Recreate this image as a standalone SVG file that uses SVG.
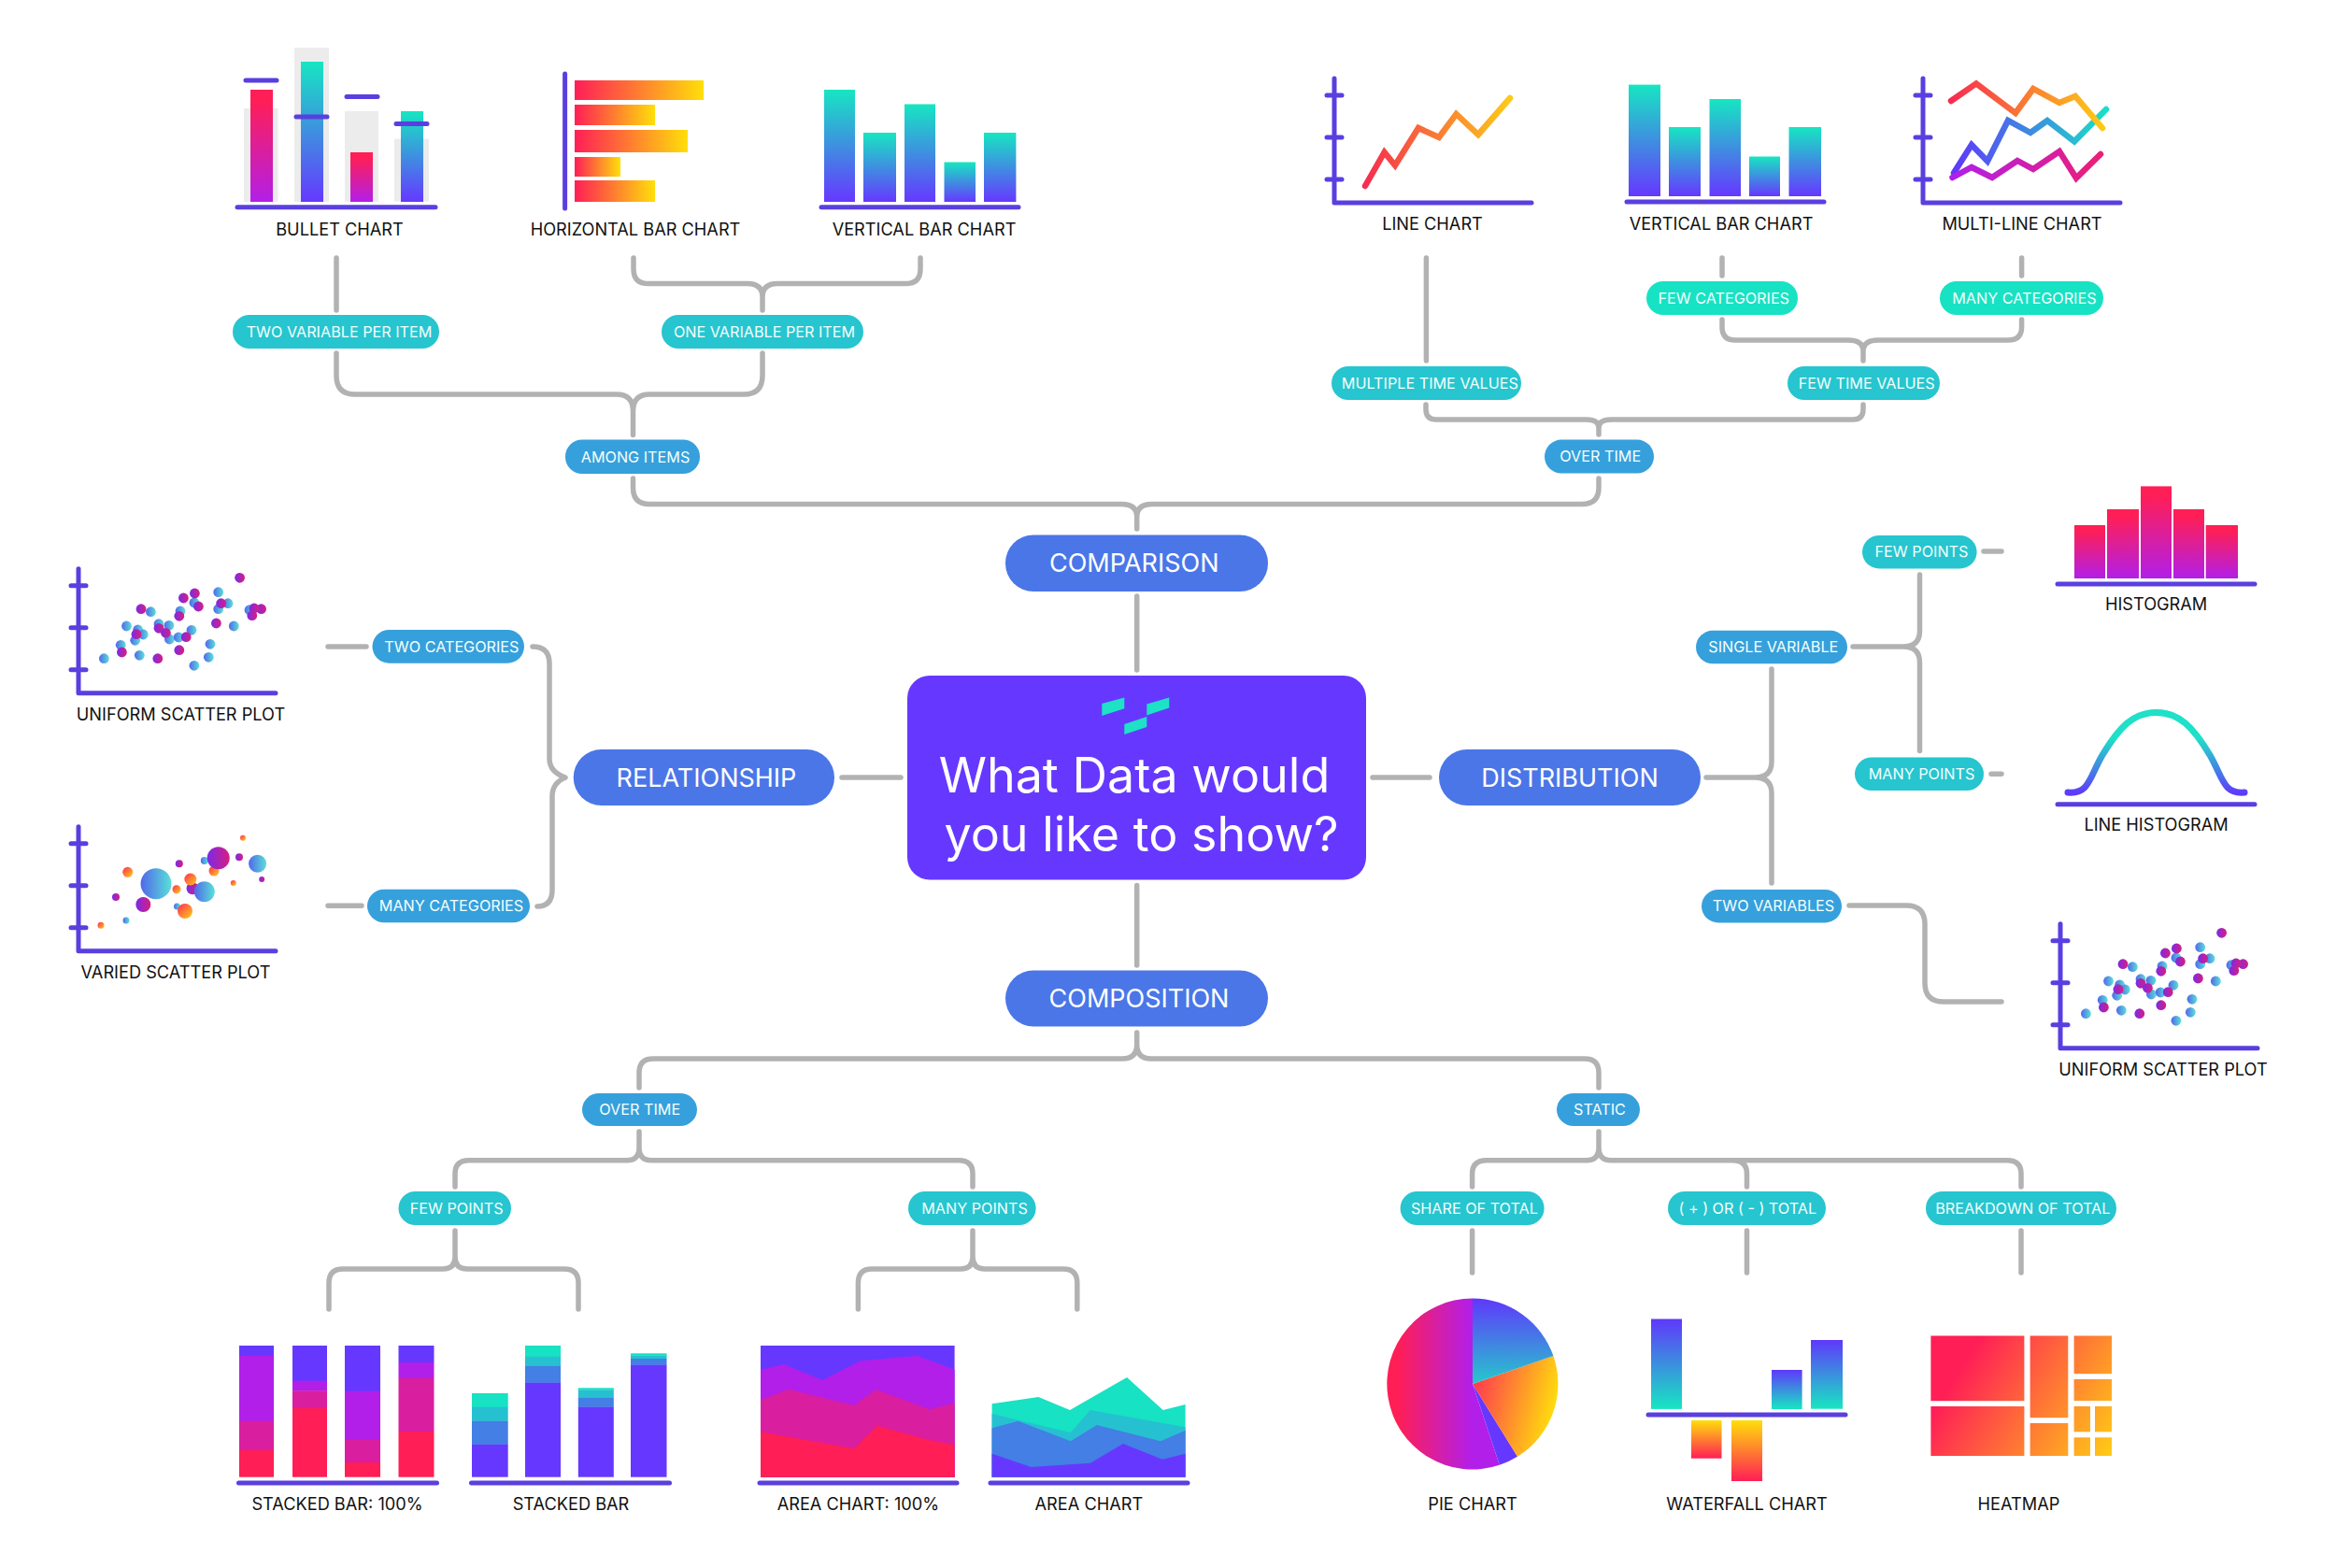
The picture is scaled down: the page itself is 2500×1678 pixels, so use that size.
<svg xmlns="http://www.w3.org/2000/svg" xmlns:xlink="http://www.w3.org/1999/xlink" width="2500" height="1678" viewBox="0 0 2500 1678">
<style>
text{font-family:Inter,"Liberation Sans",Arial,sans-serif;text-anchor:middle}
.lbl{font-size:18.2px;fill:#111}
.pt{font-size:16.2px;fill:#f4fffd}
.big{font-size:27px;fill:#fff}
.main{font-size:52px;fill:#fff}
.con{fill:none;stroke:#b2b2b2;stroke-width:5.5;stroke-linecap:round;stroke-linejoin:round}
.ax{fill:none;stroke:#5a3fe0;stroke-width:5;stroke-linecap:round;stroke-linejoin:round}
.a{fill:#36a0dc}.t{fill:#26c5cf}.g{fill:#17e2c3}.b{fill:#4a76e8}
.bg{fill:#ececec}
.tv{fill:url(#tv)}.rp{fill:url(#rp)}.ry{fill:url(#ry)}.vt{fill:url(#vt)}.yr{fill:url(#yr)}
.ln{fill:none;stroke-width:6.5;stroke-linejoin:miter;stroke-linecap:round}
.v{fill:#6638ff}.p{fill:#b21fe8}.m{fill:#d91ea0}.r{fill:#ff1e56}.e{fill:#17e2c3}.c{fill:#26c1d0}.u{fill:#437fe4}
.dm{fill:url(#dm)}.db{fill:url(#db)}.do{fill:url(#do)}
.hm{fill:url(#hm)}
</style>
<defs>
<linearGradient id="tv" x1="0" y1="0" x2="0" y2="1"><stop offset="0" stop-color="#17e6c2"/><stop offset="1" stop-color="#6638ff"/></linearGradient>
<linearGradient id="vt" x1="0" y1="0" x2="0" y2="1"><stop offset="0" stop-color="#5f38fb"/><stop offset="1" stop-color="#17e6c2"/></linearGradient>
<linearGradient id="rp" x1="0" y1="0" x2="0" y2="1"><stop offset="0.1" stop-color="#ff1e56"/><stop offset="1" stop-color="#b21fe8"/></linearGradient>
<linearGradient id="ry" x1="0" y1="0" x2="1" y2="0"><stop offset="0" stop-color="#ff1e56"/><stop offset="1" stop-color="#ffdf0a"/></linearGradient>
<linearGradient id="yr" x1="0" y1="0" x2="0" y2="1"><stop offset="0" stop-color="#ffdf0a"/><stop offset="1" stop-color="#ff1e56"/></linearGradient>
<linearGradient id="dm" x1="0" y1="0" x2="1" y2="0"><stop offset="0" stop-color="#7a2ae8"/><stop offset="1" stop-color="#d81e80"/></linearGradient>
<linearGradient id="db" x1="0" y1="0" x2="1" y2="0"><stop offset="0" stop-color="#5068ea"/><stop offset="1" stop-color="#5ae0d8"/></linearGradient>
<linearGradient id="do" x1="0" y1="0" x2="1" y2="1"><stop offset="0" stop-color="#ff2a55"/><stop offset="1" stop-color="#ffd015"/></linearGradient>
<linearGradient id="lg1" gradientUnits="userSpaceOnUse" x1="1461" y1="0" x2="1616" y2="0"><stop offset="0" stop-color="#f62c50"/><stop offset="1" stop-color="#fdcb17"/></linearGradient>
<linearGradient id="lg2" gradientUnits="userSpaceOnUse" x1="2088" y1="0" x2="2250" y2="0"><stop offset="0" stop-color="#f62c50"/><stop offset="1" stop-color="#fdcb17"/></linearGradient>
<linearGradient id="lg3" gradientUnits="userSpaceOnUse" x1="2091" y1="0" x2="2254" y2="0"><stop offset="0" stop-color="#5f38fb"/><stop offset="1" stop-color="#1adfc5"/></linearGradient>
<linearGradient id="lg4" gradientUnits="userSpaceOnUse" x1="2089" y1="0" x2="2248" y2="0"><stop offset="0" stop-color="#b01fea"/><stop offset="1" stop-color="#ec1e78"/></linearGradient>
<linearGradient id="lh" gradientUnits="userSpaceOnUse" x1="0" y1="790" x2="0" y2="850"><stop offset="0" stop-color="#1fe0c8"/><stop offset="1" stop-color="#5f38fb"/></linearGradient>
<linearGradient id="hm" gradientUnits="userSpaceOnUse" x1="2080" y1="1450" x2="2270" y2="1570"><stop offset="0.1" stop-color="#ff1e56"/><stop offset="1" stop-color="#ffda10"/></linearGradient>
<linearGradient id="pi1" x1="0" y1="0" x2="0" y2="1"><stop offset="0" stop-color="#5f38fb"/><stop offset="1" stop-color="#26c8cc"/></linearGradient>
<linearGradient id="pi2" x1="0" y1="0" x2="1" y2="0.3"><stop offset="0" stop-color="#ff2a55"/><stop offset="1" stop-color="#ffd80f"/></linearGradient>
<linearGradient id="pi3" x1="0" y1="0" x2="1" y2="0"><stop offset="0.1" stop-color="#ff1e56"/><stop offset="0.75" stop-color="#b21fe8"/></linearGradient>
<g id="axes"><path class="ax" d="M0 3V136H211M-8 21H8M-8 66H8M-8 111H8"/></g>
<g id="scatter">
<circle class="db" cx="233.7" cy="633.7" r="5.4"/><circle class="db" cx="244" cy="645.7" r="5.4"/><circle class="db" cx="233.7" cy="651.7" r="5.4"/><circle class="db" cx="207.9" cy="645" r="5.4"/><circle class="db" cx="161.4" cy="654.7" r="5.4"/><circle class="db" cx="193" cy="654" r="5.4"/><circle class="db" cx="267" cy="652.7" r="5.4"/><circle class="db" cx="250.3" cy="670" r="5.4"/><circle class="db" cx="135.5" cy="670" r="5.4"/><circle class="db" cx="180.9" cy="669.3" r="5.4"/><circle class="db" cx="170" cy="667.7" r="5.4"/><circle class="db" cx="147.6" cy="674" r="5.4"/><circle class="db" cx="153.3" cy="679" r="5.4"/><circle class="db" cx="144.7" cy="685.3" r="5.4"/><circle class="db" cx="205" cy="674.3" r="5.4"/><circle class="db" cx="181.4" cy="684" r="5.4"/><circle class="db" cx="191.2" cy="682" r="5.4"/><circle class="db" cx="225" cy="689.3" r="5.4"/><circle class="db" cx="129.2" cy="690.3" r="5.4"/><circle class="db" cx="149.3" cy="701.3" r="5.4"/><circle class="db" cx="111.4" cy="704.7" r="5.4"/><circle class="db" cx="223.3" cy="703.3" r="5.4"/><circle class="db" cx="207.9" cy="712.3" r="5.4"/>
<circle class="dm" cx="256.6" cy="618.3" r="5.4"/><circle class="dm" cx="208.4" cy="635" r="5.4"/><circle class="dm" cx="196.4" cy="640" r="5.4"/><circle class="dm" cx="212.4" cy="649" r="5.4"/><circle class="dm" cx="236.6" cy="645.7" r="5.4"/><circle class="dm" cx="151" cy="651.7" r="5.4"/><circle class="dm" cx="191.8" cy="659.3" r="5.4"/><circle class="dm" cx="231.4" cy="667" r="5.4"/><circle class="dm" cx="279.6" cy="651.7" r="5.4"/><circle class="dm" cx="272" cy="651" r="5.4"/><circle class="dm" cx="269.8" cy="658.7" r="5.4"/><circle class="dm" cx="170" cy="672.3" r="5.4"/><circle class="dm" cx="177.4" cy="677.3" r="5.4"/><circle class="dm" cx="145.9" cy="678.7" r="5.4"/><circle class="dm" cx="199.2" cy="681.7" r="5.4"/><circle class="dm" cx="191.8" cy="695.7" r="5.4"/><circle class="dm" cx="130.4" cy="698" r="5.4"/><circle class="dm" cx="168.8" cy="704.7" r="5.4"/>
</g>
</defs>
<rect width="2500" height="1678" fill="#fff"/>
<g id="connectors" class="con">
<path d="M360 276V332"/>
<path d="M678 276V288Q678 303.6 694 303.6H800Q816 303.6 816 318V332M985 276V288Q985 303.6 969 303.6H832Q816 303.6 816 318"/>
<path d="M360 378V402Q360 422 380 422H660Q677.5 422 677.5 440V465.5M816 378V402Q816 422 796 422H695Q677.5 422 677.5 440"/>
<path d="M677.5 512V522Q677.5 539.5 695 539.5H1200Q1216.7 539.5 1216.7 553V566M1711 512V522Q1711 539.5 1693 539.5H1233Q1216.7 539.5 1216.7 553"/>
<path d="M1526.4 276V386M1843 276V295M2163.6 276V295"/>
<path d="M1843 342V350Q1843 364 1857 364H1978Q1994 364 1994 376V386M2163.6 342V350Q2163.6 364 2149 364H2010Q1994 364 1994 376"/>
<path d="M1526 433V438Q1526 449 1537 449H1698Q1711 449 1711 458V465M1994 433V438Q1994 449 1983 449H1724Q1711 449 1711 458"/>
<path d="M1216.7 638V717M1216.7 947.5V1033"/>
<path d="M684 1164V1148Q684 1133 699 1133H1201Q1216.7 1133 1216.7 1118V1105M1711 1164V1148Q1711 1133 1696 1133H1232Q1216.7 1133 1216.7 1118"/>
<path d="M684 1211V1228Q684 1241.7 671 1241.7H502Q487 1241.7 487 1256V1270M684 1228Q684 1241.7 697 1241.7H1026Q1041 1241.7 1041 1256V1270"/>
<path d="M1711 1211V1228Q1711 1241.7 1698 1241.7H1591Q1575.6 1241.7 1575.6 1256V1270M1711 1228Q1711 1241.7 1724 1241.7H2148Q2163 1241.7 2163 1256V1270M1854 1241.7Q1869.5 1241.7 1869.5 1256V1270"/>
<path d="M487 1317V1345Q487 1358 474 1358H367Q352 1358 352 1373V1401M487 1345Q487 1358 500 1358H604Q619 1358 619 1373V1401"/>
<path d="M1041 1317V1345Q1041 1358 1028 1358H933Q918.4 1358 918.4 1373V1401M1041 1345Q1041 1358 1054 1358H1138Q1152.8 1358 1152.8 1373V1401"/>
<path d="M1575.6 1317V1362M1869.5 1317V1362M2163 1317V1362"/>
<path d="M351 692H392M351 969.3H387"/>
<path d="M570 692Q588 692 588 710V812Q588 826 605 832M575 970Q591 970 591 952V852Q591 838 605 832"/>
<path d="M901 832H964M1469 832H1530"/>
<path d="M1826 832H1878Q1896 832 1896 815V716M1878 832Q1896 832 1896 849V945"/>
<path d="M1983 692H2037Q2054.5 692 2054.5 675V615M2037 692Q2054.5 692 2054.5 709V803.6"/>
<path d="M2123 590H2142M2131 828.3H2142"/>
<path d="M1979 969H2040Q2060 969 2060 989V1052Q2060 1072 2080 1072H2142"/>
</g>
<g id="central"><rect x="971" y="723" width="491" height="218.5" rx="24" fill="#6638ff"/>
<path fill="#1de2c6" d="M1179.3 752.9L1203.3 746.4V758.2L1179.3 766ZM1227.3 753.6L1251.3 746.4V757.5L1227.3 765.4ZM1203.3 775L1227.3 767V778L1203.3 786Z"/>
<text class="main" x="1214" y="848">What Data would</text><text class="main" x="1221.5" y="910.5">you like to show?</text></g>
<g id="comparison"><rect class="b" x="1076" y="572.5" width="281" height="60.5" rx="30"/><text class="big" x="1213.7" y="612">COMPARISON</text></g>
<g id="composition"><rect class="b" x="1076" y="1038.5" width="281" height="60" rx="30"/><text class="big" x="1219" y="1077.5">COMPOSITION</text></g>
<g id="relationship"><rect class="b" x="613.7" y="802" width="279.3" height="60" rx="30"/><text class="big" x="756" y="841.5">RELATIONSHIP</text></g>
<g id="distribution"><rect class="b" x="1540" y="802" width="280" height="60" rx="30"/><text class="big" x="1680" y="841.5">DISTRIBUTION</text></g>

<g id="pill-two-var"><rect class="t" x="249" y="337" width="221" height="36" rx="18"/><text class="pt" x="363" y="361">TWO VARIABLE PER ITEM</text></g>
<g id="pill-one-var"><rect class="t" x="708" y="337" width="216" height="36" rx="18"/><text class="pt" x="818" y="361">ONE VARIABLE PER ITEM</text></g>
<g id="pill-among"><rect class="a" x="605" y="470.5" width="144" height="36.5" rx="18"/><text class="pt" x="680" y="494.5">AMONG ITEMS</text></g>
<g id="pill-few-cat"><rect class="g" x="1762" y="301" width="162" height="36" rx="18"/><text class="pt" x="1844.7" y="324.5">FEW CATEGORIES</text></g>
<g id="pill-many-cat"><rect class="g" x="2076" y="301" width="175" height="36" rx="18"/><text class="pt" x="2166.4" y="324.5">MANY CATEGORIES</text></g>
<g id="pill-multi-time"><rect class="t" x="1425" y="392" width="203" height="36" rx="18"/><text class="pt" x="1530.4" y="415.5">MULTIPLE TIME VALUES</text></g>
<g id="pill-few-time"><rect class="t" x="1913" y="392" width="163" height="36" rx="18"/><text class="pt" x="1997.7" y="415.5">FEW TIME VALUES</text></g>
<g id="pill-over-time"><rect class="a" x="1653" y="470.6" width="117" height="36" rx="18"/><text class="pt" x="1712.7" y="494">OVER TIME</text></g>
<g id="pill-two-cat"><rect class="a" x="398.5" y="674" width="162.5" height="35.7" rx="18"/><text class="pt" x="483.4" y="697.5">TWO CATEGORIES</text></g>
<g id="pill-many-cat2"><rect class="a" x="393" y="951.7" width="174" height="35.6" rx="18"/><text class="pt" x="483" y="975">MANY CATEGORIES</text></g>
<g id="pill-few-pts"><rect class="t" x="1993" y="573" width="122.6" height="35.4" rx="18"/><text class="pt" x="2056.5" y="596">FEW POINTS</text></g>
<g id="pill-single"><rect class="a" x="1815" y="674.8" width="162" height="35.5" rx="18"/><text class="pt" x="1897.8" y="698">SINGLE VARIABLE</text></g>
<g id="pill-many-pts"><rect class="t" x="1985" y="810.5" width="138" height="35.5" rx="18"/><text class="pt" x="2056.5" y="833.5">MANY POINTS</text></g>
<g id="pill-two-vars"><rect class="a" x="1821" y="952" width="150" height="35.4" rx="18"/><text class="pt" x="1898" y="975">TWO VARIABLES</text></g>
<g id="pill-over-time2"><rect class="a" x="623" y="1170" width="123" height="35" rx="18"/><text class="pt" x="684.7" y="1193">OVER TIME</text></g>
<g id="pill-static"><rect class="a" x="1666" y="1170" width="89" height="35" rx="18"/><text class="pt" x="1712" y="1193">STATIC</text></g>
<g id="pill-few-pts2"><rect class="t" x="426.5" y="1275" width="120.5" height="36" rx="18"/><text class="pt" x="488.6" y="1298.5">FEW POINTS</text></g>
<g id="pill-many-pts2"><rect class="t" x="972" y="1275" width="136.6" height="36" rx="18"/><text class="pt" x="1043" y="1298.5">MANY POINTS</text></g>
<g id="pill-share"><rect class="t" x="1498.6" y="1275" width="154" height="36" rx="18"/><text class="pt" x="1577.9" y="1298.5">SHARE OF TOTAL</text></g>
<g id="pill-plus"><rect class="t" x="1785" y="1275" width="169" height="36" rx="18"/><text class="pt" x="1870.3" y="1298.5">( + ) OR ( - ) TOTAL</text></g>
<g id="pill-breakdown"><rect class="t" x="2061" y="1275" width="204" height="36" rx="18"/><text class="pt" x="2164.8" y="1298.5">BREAKDOWN OF TOTAL</text></g>

<g id="bullet-chart">
<rect class="bg" x="261" y="116" width="36.5" height="100"/><rect class="bg" x="315" y="51" width="37" height="165"/><rect class="bg" x="369" y="119" width="36" height="97"/><rect class="bg" x="422" y="148.6" width="37" height="67"/>
<rect class="rp" x="268" y="96" width="24" height="120"/><rect class="tv" x="322" y="66" width="24" height="150"/><rect class="rp" x="375" y="163" width="24" height="53"/><rect class="tv" x="429" y="119" width="24" height="97"/>
<path class="ax" d="M254 221.7H466M263 86H296M317 125H350M371 103.5H404M424 132.5H457"/>
<text class="lbl" x="363.5" y="252">BULLET CHART</text></g>
<g id="horizontal-bar-chart">
<path class="ax" d="M604.6 79V223"/>
<rect class="ry" x="615" y="86" width="138" height="21"/><rect class="ry" x="615" y="112" width="86" height="22"/><rect class="ry" x="615" y="139" width="121" height="24"/><rect class="ry" x="615" y="168" width="49" height="21"/><rect class="ry" x="615" y="193" width="86" height="23"/>
<text class="lbl" x="680" y="252">HORIZONTAL BAR CHART</text></g>
<g id="vertical-bar-chart">
<rect class="tv" x="882" y="96" width="33" height="120"/><rect class="tv" x="924" y="142" width="35" height="74"/><rect class="tv" x="968" y="111.5" width="33" height="104.5"/><rect class="tv" x="1010.5" y="173.5" width="33.5" height="42.5"/><rect class="tv" x="1053" y="142" width="34.4" height="74"/>
<path class="ax" d="M879 221.7H1090"/>
<text class="lbl" x="989" y="252">VERTICAL BAR CHART</text></g>
<g id="line-chart"><use href="#axes" x="1428" y="81"/>
<path class="ln" stroke="url(#lg1)" d="M1461 199L1481.6 163L1493 177L1518 137L1540 147L1558.5 122L1582 144L1616 105"/>
<text class="lbl" x="1533" y="245.5">LINE CHART</text></g>
<g id="vertical-bar-chart-2">
<rect class="tv" x="1743" y="90.6" width="34" height="119.4"/><rect class="tv" x="1786" y="136" width="34" height="74"/><rect class="tv" x="1829.5" y="106" width="33.5" height="104"/><rect class="tv" x="1872" y="167.5" width="33" height="42.5"/><rect class="tv" x="1914.5" y="136" width="34.5" height="74"/>
<path class="ax" d="M1741 216H1952"/>
<text class="lbl" x="1842" y="245.5">VERTICAL BAR CHART</text></g>
<g id="multi-line-chart"><use href="#axes" x="2058" y="81"/>
<path class="ln" stroke="url(#lg3)" d="M2091 185L2110 155L2127 172.5L2149 129L2173 142L2191 129L2220 151.4L2254 117"/>
<path class="ln" stroke="url(#lg2)" d="M2088 108L2115 89.4L2157 121L2176 95L2204 110L2221 103L2250 137"/>
<path class="ln" stroke="url(#lg4)" d="M2089.5 190L2110 179L2132 190L2159 172L2176 181L2204 162L2222 190.5L2248 165"/>
<text class="lbl" x="2164" y="245.5">MULTI-LINE CHART</text></g>
<g id="uniform-scatter-plot"><use href="#axes" x="84" y="605.7"/><use href="#scatter"/><text class="lbl" x="193.5" y="771">UNIFORM SCATTER PLOT</text></g>
<g id="varied-scatter-plot"><use href="#axes" x="84" y="881.7"/>
<circle class="do" cx="260" cy="896.7" r="3"/><circle class="dm" cx="256" cy="917.3" r="4"/><circle class="db" cx="218.8" cy="921" r="4"/><circle class="do" cx="229" cy="932" r="5.5"/><circle class="dm" cx="233.7" cy="918.3" r="12"/><circle class="db" cx="275.6" cy="924.3" r="9.5"/><circle class="dm" cx="191.8" cy="924.3" r="4"/><circle class="do" cx="136.7" cy="933.3" r="5.5"/><circle class="dm" cx="280.2" cy="941" r="3"/><circle class="do" cx="249.8" cy="945" r="3"/><circle class="db" cx="167" cy="945.7" r="16.5"/><circle class="dm" cx="206" cy="950.7" r="6.5"/><circle class="do" cx="203.8" cy="941" r="6.5"/><circle class="do" cx="189" cy="951.7" r="4.5"/><circle class="db" cx="218.8" cy="954.3" r="11"/><circle class="dm" cx="124" cy="960" r="4"/><circle class="dm" cx="153.3" cy="968" r="8"/><circle class="db" cx="189.5" cy="970" r="3.5"/><circle class="do" cx="198" cy="975" r="8"/><circle class="db" cx="135" cy="985" r="3.5"/><circle class="do" cx="108" cy="990.3" r="3.5"/>
<text class="lbl" x="188" y="1047">VARIED SCATTER PLOT</text></g>
<g id="histogram">
<rect class="rp" x="2220" y="562" width="33" height="57"/><rect class="rp" x="2255" y="545" width="34" height="74"/><rect class="rp" x="2291" y="520.4" width="33" height="98.6"/><rect class="rp" x="2326" y="545" width="33" height="74"/><rect class="rp" x="2360.7" y="562" width="34.3" height="57"/>
<path class="ax" d="M2202 625H2413"/><text class="lbl" x="2307.6" y="653">HISTOGRAM</text></g>
<g id="line-histogram">
<path fill="none" stroke="url(#lh)" stroke-width="7" stroke-linecap="round" d="M2213 848C2236 850 2236 832 2250 808C2268 778 2283 762.4 2307.6 762.4C2332 762.4 2347 778 2365 808C2379 832 2379 850 2402 848"/>
<path class="ax" d="M2202 860.8H2413"/><text class="lbl" x="2307.6" y="889">LINE HISTOGRAM</text></g>
<g id="uniform-scatter-plot-2"><use href="#axes" x="2205" y="985.7"/><use href="#scatter" x="2121" y="380"/><text class="lbl" x="2315" y="1151">UNIFORM SCATTER PLOT</text></g>
<g id="stacked-bar-100">
<rect class="v" x="256" y="1440" width="37" height="12"/><rect class="p" x="256" y="1451" width="37" height="70"/><rect class="m" x="256" y="1520.7" width="37" height="32"/><rect class="r" x="256" y="1552" width="37" height="28.7"/>
<rect class="v" x="313" y="1440" width="37" height="38"/><rect class="p" x="313" y="1477.7" width="37" height="11"/><rect class="m" x="313" y="1488.3" width="37" height="19"/><rect class="r" x="313" y="1507" width="37" height="73.7"/>
<rect class="v" x="369" y="1440" width="38" height="49"/><rect class="p" x="369" y="1488.7" width="38" height="52.5"/><rect class="m" x="369" y="1541" width="38" height="24.2"/><rect class="r" x="369" y="1565" width="38" height="15.7"/>
<rect class="v" x="426.5" y="1440" width="38" height="18.2"/><rect class="p" x="426.5" y="1458" width="38" height="17.2"/><rect class="m" x="426.5" y="1475" width="38" height="57.2"/><rect class="r" x="426.5" y="1532" width="38" height="48.7"/>
<path class="ax" d="M255.5 1587H467.5"/><text class="lbl" x="361" y="1615.5">STACKED BAR: 100%</text></g>
<g id="stacked-bar">
<rect class="e" x="505" y="1491" width="38.7" height="15"/><rect class="c" x="505" y="1505.7" width="38.7" height="15.2"/><rect class="u" x="505" y="1520.7" width="38.7" height="25.2"/><rect class="v" x="505" y="1545.7" width="38.7" height="35"/>
<rect class="e" x="562" y="1440" width="38" height="12"/><rect class="c" x="562" y="1451.7" width="38" height="10.2"/><rect class="u" x="562" y="1461.7" width="38" height="18.2"/><rect class="v" x="562" y="1479.7" width="38" height="101"/>
<rect class="e" x="618.8" y="1485.3" width="38" height="2.2"/><rect class="c" x="618.8" y="1487.3" width="38" height="8.6"/><rect class="u" x="618.8" y="1495.7" width="38" height="10.2"/><rect class="v" x="618.8" y="1505.7" width="38" height="75"/>
<rect class="e" x="675" y="1448.3" width="38.5" height="2.2"/><rect class="c" x="675" y="1450.3" width="38.5" height="3.9"/><rect class="u" x="675" y="1454" width="38.5" height="6.9"/><rect class="v" x="675" y="1460.7" width="38.5" height="120"/>
<path class="ax" d="M504.5 1587H716.5"/><text class="lbl" x="611" y="1615.5">STACKED BAR</text></g>
<g id="area-chart-100" transform="translate(0,-1)">
<rect class="v" x="814" y="1441" width="207.6" height="140.7"/>
<path class="p" d="M814 1466.7L839 1461L880 1478L921 1457.3L982 1452L1021.6 1466.7V1581.7H814Z"/>
<path class="m" d="M814 1499.3L844 1487.7L914 1505L937.4 1488L995 1509.3L1021.6 1502.3V1581.7H814Z"/>
<path class="r" d="M814 1533.3L914 1551.3L938.8 1526.7L995 1542.3L1021.6 1547.3V1581.7H814Z"/>
<path class="ax" d="M813 1588H1024"/><text class="lbl" x="918.4" y="1616.5">AREA CHART: 100%</text></g>
<g id="area-chart" transform="translate(0,-1)">
<path class="e" d="M1061.6 1503.3L1111.4 1496L1145 1510L1206 1475L1244.7 1510L1268.6 1504V1581.7H1061.6Z"/>
<path class="c" d="M1061.6 1514L1145.8 1534L1166.8 1510L1268.6 1528.3V1581.7H1061.6Z"/>
<path class="u" d="M1061.6 1529.3L1089.6 1521.7L1145.8 1543.3L1173.9 1526L1242 1543.3L1268.6 1531.7V1581.7H1061.6Z"/>
<path class="v" d="M1061.6 1556.7L1103.7 1571L1166.8 1566.7L1202 1546L1244 1562.7L1268.6 1556.7V1581.7H1061.6Z"/>
<path class="ax" d="M1060 1588H1271"/><text class="lbl" x="1165.4" y="1616.5">AREA CHART</text></g>
<g id="pie-chart">
<path fill="url(#pi3)" d="M1576 1481V1389.5A91.5 91.5 0 1 0 1604.8 1567.8Z"/>
<path fill="#6638ff" d="M1576 1481L1604.8 1567.8A91.5 91.5 0 0 0 1624 1558.8Z"/>
<path fill="url(#pi2)" d="M1576 1481L1624 1558.8A91.5 91.5 0 0 0 1662.4 1451Z"/>
<path fill="url(#pi1)" d="M1576 1481L1662.4 1451A91.5 91.5 0 0 0 1576 1389.5Z"/>
<text class="lbl" x="1576" y="1615.5">PIE CHART</text></g>
<g id="waterfall-chart">
<rect class="vt" x="1767" y="1411.5" width="33" height="96.4"/><rect class="vt" x="1896" y="1466" width="32.6" height="42"/><rect class="vt" x="1938" y="1434" width="34" height="73.7"/>
<rect class="yr" x="1810" y="1520" width="32.5" height="40.7"/><rect class="yr" x="1853" y="1520" width="33" height="65"/>
<path class="ax" d="M1764 1514H1975"/><text class="lbl" x="1869.5" y="1615.5">WATERFALL CHART</text></g>
<g id="heatmap">
<rect class="hm" x="2066.4" y="1429.5" width="100" height="69.7"/><rect class="hm" x="2066.4" y="1505" width="100" height="53"/>
<rect class="hm" x="2172.6" y="1429.5" width="40.7" height="87.7"/><rect class="hm" x="2172.6" y="1523" width="40.7" height="35"/>
<rect class="hm" x="2219.6" y="1429.5" width="40.4" height="40.7"/><rect class="hm" x="2219.6" y="1476" width="40.4" height="23"/>
<rect class="hm" x="2219.6" y="1505" width="17.4" height="27.3"/><rect class="hm" x="2242" y="1505" width="18" height="27.3"/><rect class="hm" x="2219.6" y="1538.3" width="17.4" height="19.7"/><rect class="hm" x="2242" y="1538.3" width="18" height="19.7"/>
<text class="lbl" x="2160.5" y="1615.5">HEATMAP</text></g>
</svg>
